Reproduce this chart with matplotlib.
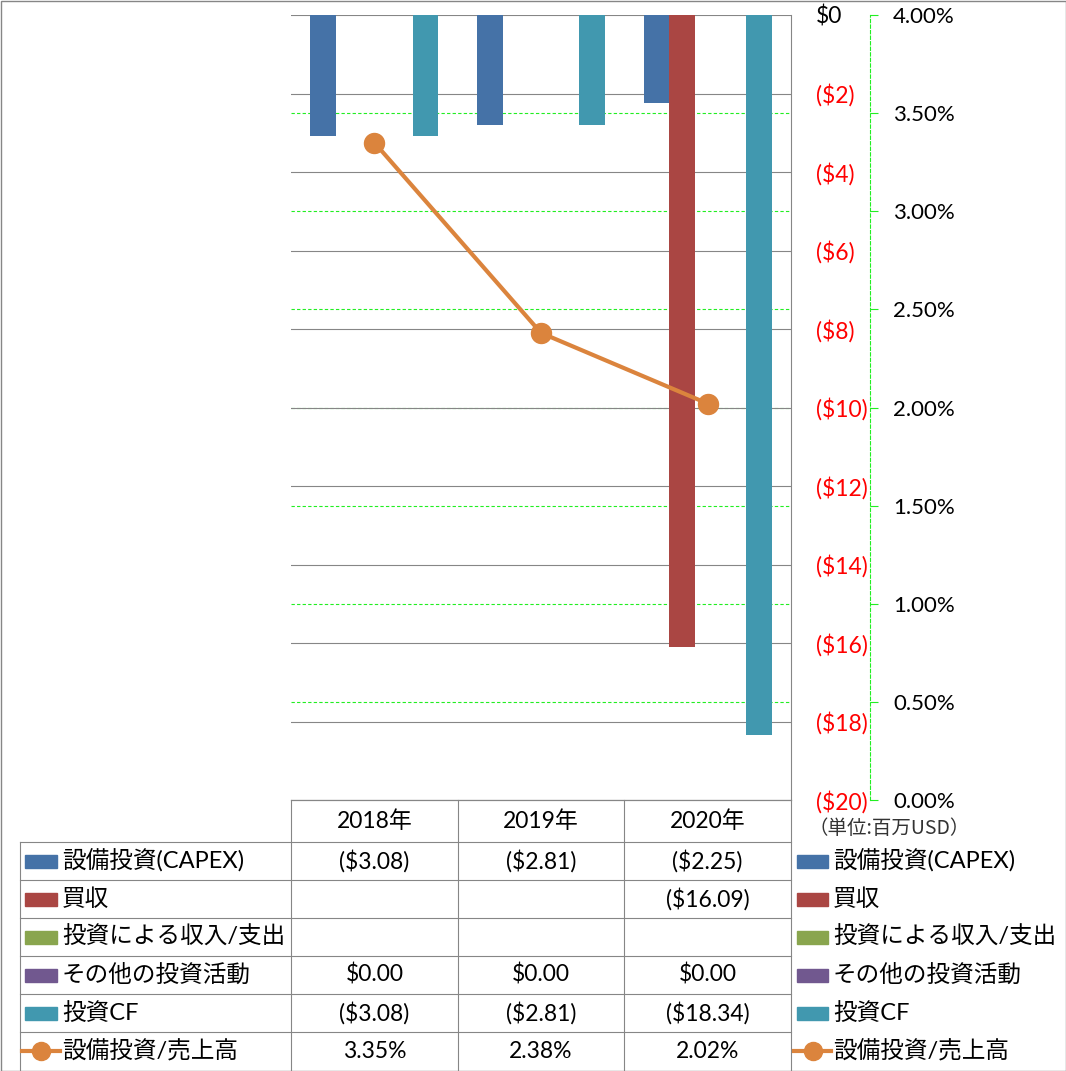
import numpy as np
import matplotlib
matplotlib.use('Agg')
import matplotlib.pyplot as plt
from matplotlib.ticker import FuncFormatter
from matplotlib.transforms import blended_transform_factory
from matplotlib.patches import Rectangle
from matplotlib.lines import Line2D

plt.rcParams['font.family'] = ['Lato', 'Noto Sans CJK JP', 'DejaVu Sans']

# data (百万USD)
years = ['2018年', '2019年', '2020年']
capex = [-3.08, -2.81, -2.25]
acquisition = [None, None, -16.09]
inv_income = [None, None, None]
other_inv = [0.00, 0.00, 0.00]
inv_cf = [-3.08, -2.81, -18.34]
capex_ratio = [3.35, 2.38, 2.02]   # %

bar_names = ['設備投資(CAPEX)', '買収', '投資による収入/支出', 'その他の投資活動', '投資CF']
bar_series = [capex, acquisition, inv_income, other_inv, inv_cf]
bar_colors = ['#4572A7', '#AA4643', '#89A54E', '#71588F', '#4198AF']
line_name = '設備投資/売上高'
line_color = '#DB843D'

GRAY = '#868686'
GREEN = '#22EE22'
W, H = 1066, 1071
px = 72 / 100.0   # points per pixel
FS = 16.5

fig = plt.figure(figsize=(W / 100, H / 100), dpi=100)

# plot area in pixels
x0, x1, y0, y1 = 291, 791, 15, 800
ax = fig.add_axes([x0 / W, 1 - y1 / H, (x1 - x0) / W, (y1 - y0) / H])
ax.set_xlim(-0.5, 2.5)
ax.set_ylim(-20, 0)

x = np.arange(len(years))
w = 0.1536
for j, (vals, c) in enumerate(zip(bar_series, bar_colors)):
    h = np.array([np.nan if v is None else v for v in vals], float)
    ax.bar(x + (j - 2) * w, h, width=w, color=c, zorder=2)

# secondary axis (%)
ax2 = ax.twinx()
ax2.set_ylim(0, 4)
pct_ticks = np.arange(0, 4.01, 0.5)
ax2.set_yticks(pct_ticks)
ax2.yaxis.set_major_formatter(FuncFormatter(lambda v, p: '{:.2f}%'.format(v)))
for s in ['top', 'left', 'bottom']:
    ax2.spines[s].set_visible(False)
ax2.spines['right'].set_position(('outward', 79 * px))
ax2.spines['right'].set_color(GREEN)
ax2.spines['right'].set_linestyle((0, (3, 2)))
ax2.spines['right'].set_linewidth(0.8)
ax2.tick_params(axis='y', direction='out', length=8 * px, width=0.8, color=GREEN,
                pad=15 * px, labelsize=16)

# primary axis ($), labels on the right
ax.set_xticks([])
ax.set_yticks(np.arange(-20, 1, 2))
ax.yaxis.tick_right()
ax.yaxis.set_major_formatter(FuncFormatter(lambda v, p: '$0' if v == 0 else '(${:.0f})'.format(-v)))
ax.tick_params(axis='y', length=0, pad=25 * px, labelsize=16.5)
ax.grid(axis='y', color=GRAY, lw=0.8)
ax.set_axisbelow(True)
for s in ['top', 'left']:
    ax.spines[s].set_visible(False)
for s in ['right', 'bottom']:
    ax.spines[s].set_color(GRAY)
    ax.spines[s].set_linewidth(0.8)

# secondary gridlines behind the bars
tr = blended_transform_factory(ax.transAxes, ax2.transData)
for t in pct_ticks[1:-1]:
    ax.plot([0, 1], [t, t], transform=tr, color=GREEN, lw=0.8, ls=(0, (3, 2)), zorder=0.4)

ax2.plot(x, capex_ratio, color=line_color, lw=3, marker='o', ms=14.4, zorder=3)

# unit note
fig.text(808 / W, 1 - 828 / H, '（単位:百万USD）', fontsize=14, color='#333333',
         ha='left', va='center', family=['Noto Sans CJK JP', 'DejaVu Sans'])

# data table drawn in pixel coordinates
tab = fig.add_axes([0, 0, 1, 1])
tab.set_xlim(0, W)
tab.set_ylim(H, 0)
tab.axis('off')

col_x = [291, 458, 624, 791]
row_y = [842 + 38 * k for k in range(7)]
lkw = dict(color=GRAY, lw=0.8)
tab.plot([291, 791], [800, 800], **lkw)
for yy in row_y[:-1]:
    tab.plot([20, 791], [yy, yy], **lkw)
for xx in col_x:
    tab.plot([xx, xx], [800, 1071], **lkw)
tab.plot([20, 20], [842, 1071], **lkw)
tab.add_patch(Rectangle((0.5, 0.5), W - 1, H - 1, fill=False, edgecolor=GRAY, lw=1))

for i, yr in enumerate(years):
    tab.text((col_x[i] + col_x[i + 1]) / 2, 821, yr, ha='center', va='center', fontsize=FS)


def money(v):
    if v is None:
        return ''
    return '(${:.2f})'.format(-v) if v < 0 else '${:.2f}'.format(v)


names = bar_names + [line_name]
for r in range(6):
    yc = (row_y[r] + row_y[r + 1]) / 2
    if r < 5:
        labels = [money(v) for v in bar_series[r]]
        tab.add_patch(Rectangle((25, yc - 6.5), 32, 13, color=bar_colors[r]))
        tab.add_patch(Rectangle((797, yc - 6.5), 31, 13, color=bar_colors[r]))
    else:
        labels = ['{:.2f}%'.format(v) for v in capex_ratio]
        for lx0, lx1 in [(22, 60), (794, 831)]:
            tab.add_line(Line2D([lx0, lx1], [yc, yc], color=line_color, lw=3))
            tab.add_line(Line2D([(lx0 + lx1) / 2], [yc], color=line_color, marker='o', ms=13))
    for i, s in enumerate(labels):
        tab.text((col_x[i] + col_x[i + 1]) / 2, yc, s, ha='center', va='center', fontsize=FS)
    tab.text(62, yc, names[r], ha='left', va='center', fontsize=17)
    tab.text(833, yc, names[r], ha='left', va='center', fontsize=17)

fig.canvas.draw()
for tick, v in zip(ax.yaxis.get_major_ticks(), ax.get_yticks()):
    tick.label2.set_color('black' if v == 0 else 'red')

plt.savefig('out.png', dpi=100)
